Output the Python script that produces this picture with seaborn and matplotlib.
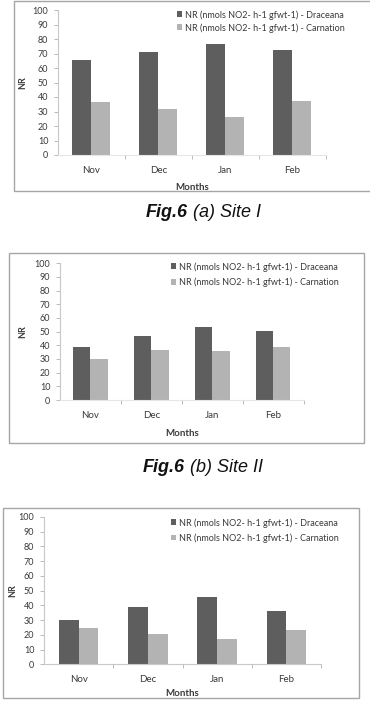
import matplotlib
matplotlib.use("Agg")
import matplotlib.pyplot as plt
import seaborn as sns
import pandas as pd
from matplotlib.patches import Rectangle, Patch

# ---------------- data ----------------
months = ["Nov", "Dec", "Jan", "Feb"]
series_names = ["NR (nmols NO2- h-1 gfwt-1) - Draceana",
                "NR (nmols NO2- h-1 gfwt-1) - Carnation"]
site1_draceana = [65.5, 70.8, 76.5, 72.4]
site1_carnation = [36.8, 31.5, 26.2, 37.2]
site2_draceana = [39.0, 46.6, 53.4, 50.2]
site2_carnation = [30.2, 36.6, 36.1, 38.8]
site3_draceana = [30.1, 38.9, 45.7, 36.2]
site3_carnation = [24.9, 20.6, 17.4, 23.3]
y_ticks = [0, 10, 20, 30, 40, 50, 60, 70, 80, 90, 100]
captions = [("Fig.6", " (a) Site I"), ("Fig.6", " (b) Site II")]

W, H = 370, 722
sns.set_theme(style="white")
plt.rcParams["font.family"] = ["Lato", "DejaVu Sans"]

fig = plt.figure(figsize=(W / 100, H / 100), dpi=100)
fig.patch.set_facecolor("white")

DARK = "#5e5e5e"
LIGHT = "#b3b3b3"
TXT = "#3a3a3a"


def fx(x):
    return x / W


def fy(y):
    return 1 - y / H


def frame(x0, y0, x1, y1):
    fig.add_artist(Rectangle((fx(x0), fy(y1)), fx(x1 - x0), (y1 - y0) / H,
                             transform=fig.transFigure, fill=False,
                             edgecolor="#a6a6a6", lw=1.0))


def panel(x0, x1, y0, y100, dr, ca, leg_x, leg_y, xaxis_col, nr_x, months_y, leg_sp):
    ax = fig.add_axes([fx(x0), fy(y0), fx(x1 - x0), (y0 - y100) / H])
    df = pd.DataFrame({
        "Month": months * 2,
        "NR": dr + ca,
        "Series": [series_names[0]] * 4 + [series_names[1]] * 4,
    })
    sns.barplot(data=df, x="Month", y="NR", hue="Series", order=months,
                hue_order=series_names, palette=[DARK, LIGHT], width=0.57,
                saturation=1, ax=ax, legend=False, edgecolor="none")
    ax.set_xlim(-0.5, 3.5)
    ax.set_ylim(0, 100)
    ax.set_yticks(y_ticks)
    ax.set_facecolor("none")
    for s in ["top", "right"]:
        ax.spines[s].set_visible(False)
    ax.spines["left"].set_color("#c8c8c8")
    ax.spines["left"].set_linewidth(0.8)
    ax.spines["bottom"].set_color(xaxis_col)
    ax.spines["bottom"].set_linewidth(0.8)
    ax.tick_params(axis="y", which="major", length=3, width=0.6, color="#b0b0b0",
                   pad=4, labelsize=6.5, labelcolor=TXT, left=True)
    ax.tick_params(axis="x", which="major", length=0, pad=8, labelsize=7,
                   labelcolor=TXT)
    ax.set_xticks([0.5, 1.5, 2.5, 3.5], minor=True)
    ax.tick_params(axis="x", which="minor", length=3, width=0.6, color="#b0b0b0",
                   bottom=True)
    ax.set_xlabel("Months", fontsize=7, fontweight="bold", color=TXT)
    ax.set_ylabel("NR", fontsize=6.5, fontweight="bold", color=TXT)
    hpx = y0 - y100
    wpx = x1 - x0
    ax.xaxis.set_label_coords(0.5, -(months_y - y0) / hpx)
    ax.yaxis.set_label_coords(-(x0 - nr_x) / wpx, 0.5)
    handles = [Patch(facecolor=DARK, edgecolor="none"),
               Patch(facecolor=LIGHT, edgecolor="none")]
    fig.legend(handles, series_names, loc="upper left",
               bbox_to_anchor=(fx(leg_x), fy(leg_y)), frameon=False,
               fontsize=6.5, handlelength=0.6, handleheight=0.6,
               handletextpad=0.3, borderpad=0, borderaxespad=0,
               labelspacing=leg_sp, labelcolor=TXT)
    return ax


# panel 1 (Site I)
frame(14, 0.5, 372, 191)
panel(58, 325.5, 155, 10, site1_draceana, site1_carnation,
      177, 10, "#e6e6e6", 27, 183, 0.38)
# panel 2 (Site II)
frame(9, 253, 364, 443)
panel(60, 303.5, 400, 263.3, site2_draceana, site2_carnation,
      171, 262, "#e6e6e6", 27, 429, 0.65)
# panel 3 (Site III)
frame(3, 508, 359, 698)
panel(44, 321, 664.3, 517, site3_draceana, site3_carnation,
      171, 518, "#c8c8c8", 17, 689.5, 0.62)

# captions
fig.canvas.draw()
renderer = fig.canvas.get_renderer()
for (bold, rest), yc in zip(captions, [213, 467]):
    t1 = fig.text(0, fy(yc), bold, fontsize=13, fontweight="bold", fontstyle="italic",
                  family=["Liberation Sans", "DejaVu Sans"], va="center", ha="left",
                  color="#111111")
    t2 = fig.text(0, fy(yc), rest, fontsize=13, fontstyle="italic",
                  family=["Liberation Sans", "DejaVu Sans"], va="center", ha="left",
                  color="#111111")
    w1 = t1.get_window_extent(renderer).width
    w2 = t2.get_window_extent(renderer).width
    total = w1 + w2
    start = 203 - total / 2
    t1.set_x(fx(start))
    t2.set_x(fx(start + w1))

fig.savefig("out.png", dpi=100, facecolor="white")
